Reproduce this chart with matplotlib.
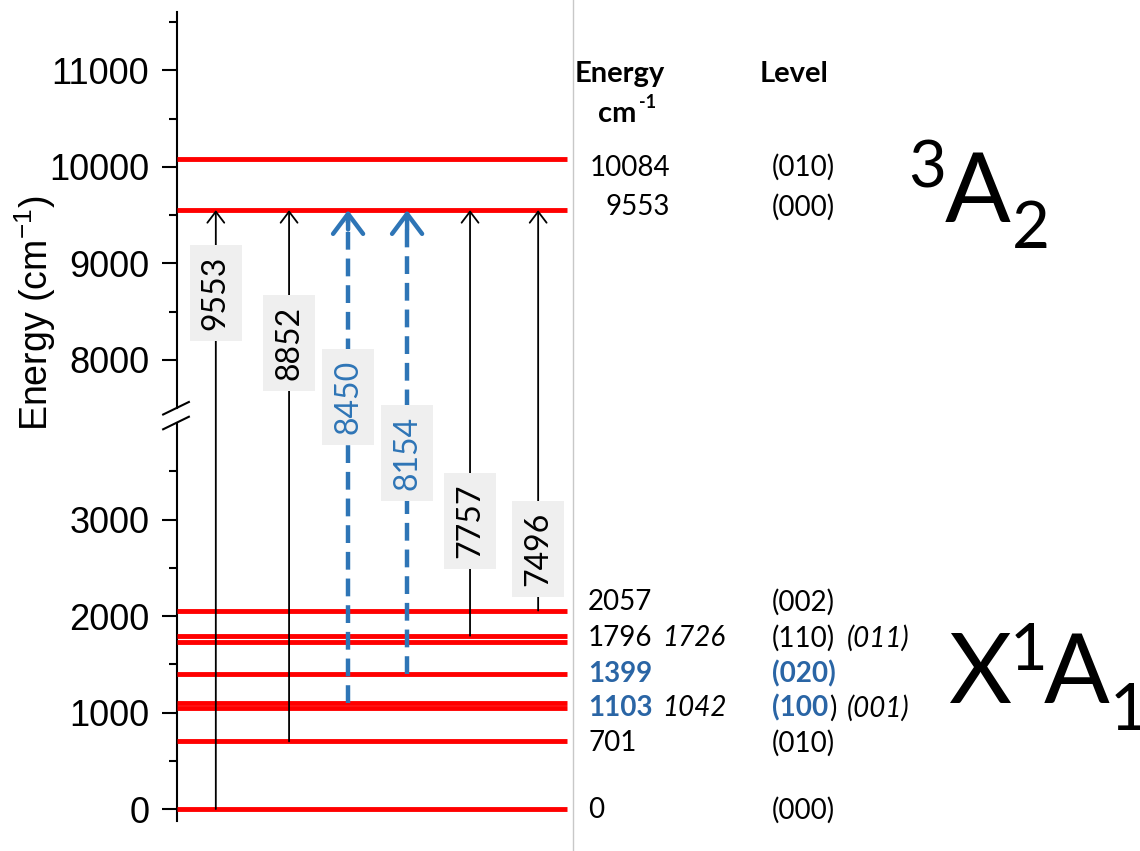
import matplotlib.pyplot as plt
from matplotlib.lines import Line2D
from matplotlib.transforms import blended_transform_factory

plt.rcParams['mathtext.fontset'] = 'custom'
plt.rcParams['mathtext.rm'] = 'Liberation Sans'

# energy levels, cm-1
ground_levels = [0, 701, 1042, 1103, 1399, 1726, 1796, 2057]
excited_levels = [9553, 10084]

# transitions to 3A2 (000) at 9553
trans_from = [0, 701, 1103, 1399, 1796, 2057]
trans_to = 9553
trans_labels = ['9553', '8852', '8450', '8154', '7757', '7496']
trans_blue = [False, False, True, True, False, False]

# table at the right
tab_energy = ['10084', '9553', '2057', '1796', '1399', '1103', '701', '0']
tab_energy_alt = ['', '', '', '1726', '', '1042', '', '']
tab_level = ['(010)', '(000)', '(002)', '(110)', '(020)', '(100', '(010)', '(000)']
tab_level_alt = ['', '', '', '(011)', '', '(001)', '', '']
tab_rows = [10084, 9553, 2057, 1796, 1399, 1103, 701, 0]
tab_blue = [False, False, False, False, True, True, False, False]

major_ticks = [0, 1000, 2000, 3000, 8000, 9000, 10000, 11000]
minor_ticks = [500, 1500, 2500, 3500, 8500, 9500, 10500, 11500]

W, H = 1140, 851
RED = '#ff0000'
BLUE = '#2e75b6'
TBLUE = '#2a65a5'
LATO = 'Lato'


def ym(e):
    # broken axis: 4000 ... 7500 removed
    return e if e <= 4000 else e - 3347


fig = plt.figure(figsize=(W / 100, H / 100), dpi=100)
ax = fig.add_axes([177 / W, 1 - 821 / H, 396 / W, 809 / H])
ax.set_xlim(0, 1)
ax.set_ylim(-124, 8259)
for s in ['top', 'right', 'bottom', 'left']:
    ax.spines[s].set_visible(False)
ax.set_xticks([])

ax.set_yticks([ym(v) for v in major_ticks])
ax.set_yticklabels([str(v) for v in major_ticks], family='Liberation Sans', fontsize=26)
ax.set_yticks([ym(v) for v in minor_ticks], minor=True)
ax.tick_params(axis='y', which='major', length=11, width=1.5, pad=9, direction='out')
ax.tick_params(axis='y', which='minor', length=5.5, width=1.5, direction='out')

# left spine in two pieces with break marks
yt = ax.get_yaxis_transform()
ax.plot([0, 0], [-124, 4000], color='k', lw=1.5, transform=yt, clip_on=False)
ax.plot([0, 0], [ym(7500), 8259], color='k', lw=1.5, transform=yt, clip_on=False)
for yc in [4000, ym(7500)]:
    ax.plot([-0.035, 0.03], [yc - 65, yc + 65], color='k', lw=1.5, transform=yt, clip_on=False)

# energy levels
ax.hlines([ym(e) for e in ground_levels + excited_levels], 0, 0.985, color=RED, lw=3.5, zorder=2)

# transitions
arrow_x = [0.098, 0.283, 0.432, 0.581, 0.740, 0.912]
label_y = [5347, 4829, 4269, 3689, 2984, 2694]
for x, lo, lab, blue, ly in zip(arrow_x, trans_from, trans_labels, trans_blue, label_y):
    top = ym(trans_to)
    if blue:
        ax.plot([x, x], [ym(lo), top - 60], color=BLUE, lw=3.2, linestyle=(0, (4, 2)), zorder=3)
        ax.annotate('', xy=(x, top), xytext=(x, top - 200),
                    arrowprops=dict(arrowstyle='->,head_length=0.6,head_width=0.45', lw=3.2,
                                    color=BLUE, mutation_scale=24, shrinkA=0, shrinkB=0),
                    zorder=3)
        col = BLUE
    else:
        ax.annotate('', xy=(x, top), xytext=(x, ym(lo)),
                    arrowprops=dict(arrowstyle='->,head_length=0.5,head_width=0.38', lw=1.3,
                                    color='k', mutation_scale=16, shrinkA=0, shrinkB=0),
                    zorder=3)
        col = 'k'
    ax.text(x, ly, lab, rotation=90, ha='center', va='center', color=col, family=LATO,
            fontsize=23, zorder=4,
            bbox=dict(boxstyle='square,pad=0.35', facecolor='#efefef', edgecolor='none'))

# right-hand table
bt = blended_transform_factory(fig.transFigure, ax.transData)
row_nudge = [-90, 30, 85, -25, 0, -55, -20, -10]
for i, e in enumerate(tab_rows):
    y = ym(e) + row_nudge[i]
    col = TBLUE if tab_blue[i] else 'k'
    wt = 'bold' if tab_blue[i] else 'normal'
    if e > 5000:
        ax.text(670 / W, y, tab_energy[i], transform=bt, ha='right', va='center',
                family=LATO, fontsize=20, color=col, fontweight=wt)
    else:
        ax.text(588 / W, y, tab_energy[i], transform=bt, ha='left', va='center',
                family=LATO, fontsize=20, color=col, fontweight=wt)
    if tab_energy_alt[i]:
        ax.text(662 / W, y, tab_energy_alt[i], transform=bt, ha='left', va='center',
                family=LATO, fontsize=20, style='italic')
    t = ax.text(772 / W, y, tab_level[i], transform=bt, ha='left', va='center',
                family=LATO, fontsize=20, color=col, fontweight=wt)
    if tab_level[i].count('(') > tab_level[i].count(')'):
        fig.canvas.draw()
        bb = t.get_window_extent()
        ax.text(bb.x1 / W + 1 / W, y, ')', transform=bt, ha='left', va='center',
                family=LATO, fontsize=20)
    if tab_level_alt[i]:
        ax.text(847 / W, y, tab_level_alt[i], transform=bt, ha='left', va='center',
                family=LATO, fontsize=20, style='italic')


def ftxt(px, py, s, **kw):
    fig.text(px / W, 1 - py / H, s, **kw)


ftxt(575, 74, 'Energy', family=LATO, fontsize=21, fontweight='bold', va='center')
ftxt(760, 74, 'Level', family=LATO, fontsize=21, fontweight='bold', va='center')
ftxt(598, 122, 'cm', family=LATO, fontsize=21, fontweight='bold', va='baseline')
ftxt(639, 108, '-1', family=LATO, fontsize=13, fontweight='bold', va='baseline')

ftxt(35, 313, 'Energy (cm$^{\\mathregular{-1}}$)', family='Liberation Sans', fontsize=27,
     rotation=90, ha='center', va='center')

# state labels
ftxt(908, 188, '3', family=LATO, fontsize=47, va='baseline')
ftxt(945, 222, 'A', family=LATO, fontsize=70, va='baseline')
ftxt(1012, 248, '2', family=LATO, fontsize=47, va='baseline')
ftxt(948, 703, 'X', family=LATO, fontsize=70, va='baseline')
ftxt(1010, 670, '1', family=LATO, fontsize=47, va='baseline')
ftxt(1044, 703, 'A', family=LATO, fontsize=70, va='baseline')
ftxt(1110, 730, '1', family=LATO, fontsize=47, va='baseline')

fig.add_artist(Line2D([573 / W, 573 / W], [0, 1], color='#c8c8c8', lw=1))

fig.savefig('out.png', dpi=100)
